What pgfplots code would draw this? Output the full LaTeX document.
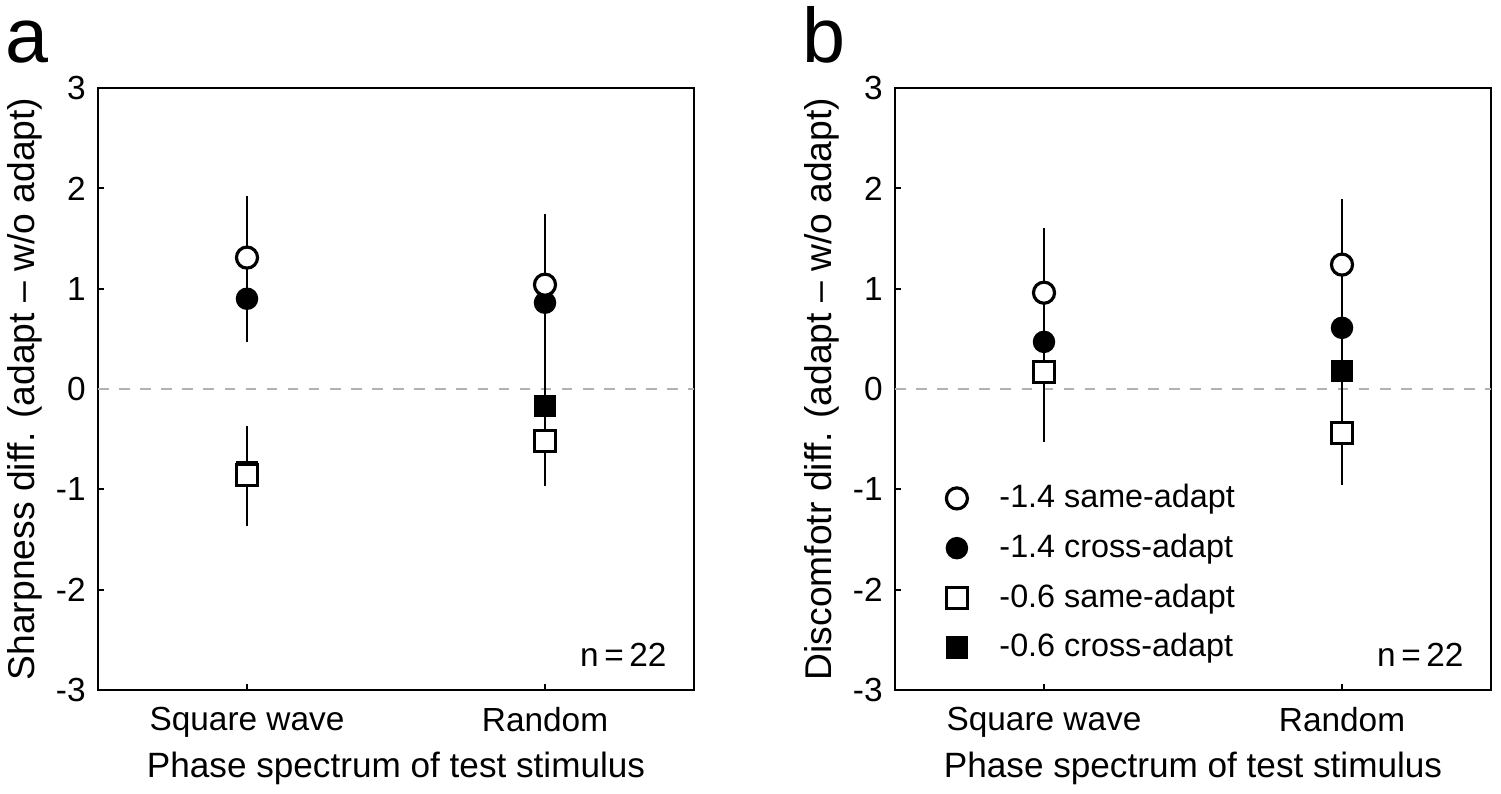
\documentclass[border=0pt]{standalone}
\usepackage{fontspec}
\setmainfont{Liberation Sans}
\usepackage{pgfplots}
\pgfplotsset{compat=1.18}

\pgfplotsset{
  panel/.style={
    width=5.96cm, height=6.02cm, scale only axis,
    xmin=0.5, xmax=2.5, ymin=-3, ymax=3,
    xtick={1,2}, xticklabels={Square wave, Random},
    ytick={-3,-2,-1,0,1,2,3}, yticklabels={-3,-2,-1,0,1,2,3},
    xtick pos=bottom, ytick pos=left, tick align=inside,
    major tick length=0.06cm,
    axis line style={line width=0.6pt},
    every tick/.style={black, line width=0.5pt},
    ticklabel style={font=\fontsize{9.5}{11}\selectfont},
    xticklabel style={yshift=-0.05cm},
    xlabel={Phase spectrum of test stimulus},
    xlabel style={font=\fontsize{10}{12}\selectfont, at={(axis description cs:0.5,-0.13)}, anchor=center},
    ylabel style={font=\fontsize{10.6}{12}\selectfont, at={(axis description cs:-0.122,0.5)}, anchor=center},
    clip=false,
  },
  opencirc/.style={only marks, mark=*, mark size=3pt, mark options={fill=white, draw=black, line width=0.9pt}},
  fillcirc/.style={only marks, mark=*, mark size=3pt, mark options={fill=black, draw=black}},
  opensq/.style={only marks, mark=square*, mark size=3pt, mark options={fill=white, draw=black, line width=0.9pt}},
  fillsq/.style={only marks, mark=square*, mark size=3pt, mark options={fill=black, draw=black}},
  errs/.style={draw=none, mark=none, forget plot,
    error bars/.cd, y dir=both, y explicit, error mark=none,
    error bar style={draw=black, solid, line width=0.6pt}},
}

\begin{document}
\begin{tikzpicture}
\useasboundingbox (-0.98,-1.03) rectangle (14.03,6.90);

% panel a
\begin{axis}[panel, at={(0,0)}, anchor=south west,
  ylabel={Sharpness diff. (adapt -- w/o adapt)}]
\addplot[gray!60, dashed, line width=0.6pt, forget plot] coordinates {(0.5,0) (2.5,0)};
\addplot[fillsq] coordinates {(1,-0.83) (2,-0.17)};
\addplot[opensq] coordinates {(1,-0.86) (2,-0.52)};
\addplot[errs] coordinates {(1,1.195) +- (0,0.725) (1,-0.87) +- (0,0.50) (2,0.385) +- (0,1.355)};
\addplot[fillcirc] coordinates {(1,0.90) (2,0.86)};
\addplot[opencirc] coordinates {(1,1.31) (2,1.04)};
\node[font=\fontsize{9.5}{11}\selectfont, anchor=east, inner sep=0pt] at (rel axis cs:0.955,0.058) {n\,=\,22};
\node[font=\fontsize{22}{26}\selectfont, anchor=base] at (rel axis cs:-0.119,1.043) {a};
\end{axis}

% panel b
\begin{axis}[panel, at={(7.97cm,0)}, anchor=south west,
  ylabel={Discomfotr diff. (adapt -- w/o adapt)},
  reverse legend,
  legend style={at={(rel axis cs:0.085,0.355)}, anchor=north west, draw=none, fill=none,
    font=\fontsize{9.2}{11}\selectfont, row sep=0.07cm, column sep=0.25cm, inner sep=0pt},
  legend cell align=left]
\addplot[gray!60, dashed, line width=0.6pt, forget plot] coordinates {(0.5,0) (2.5,0)};
\addplot[fillsq] coordinates {(1,0.18) (2,0.18)};
\addlegendentry{-0.6 cross-adapt}
\addplot[opensq] coordinates {(1,0.17) (2,-0.44)};
\addlegendentry{-0.6 same-adapt}
\addplot[errs] coordinates {(1,0.535) +- (0,1.065) (2,0.465) +- (0,1.425)};
\addplot[fillcirc] coordinates {(1,0.47) (2,0.61)};
\addlegendentry{-1.4 cross-adapt}
\addplot[opencirc] coordinates {(1,0.96) (2,1.24)};
\addlegendentry{-1.4 same-adapt}
\node[font=\fontsize{9.5}{11}\selectfont, anchor=east, inner sep=0pt] at (rel axis cs:0.955,0.058) {n\,=\,22};
\node[font=\fontsize{22}{26}\selectfont, anchor=base] at (rel axis cs:-0.119,1.043) {b};
\end{axis}
\end{tikzpicture}
\end{document}
